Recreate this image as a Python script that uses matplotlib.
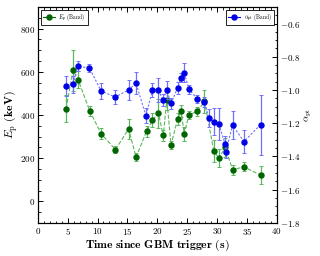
import matplotlib
matplotlib.use('Agg')
import matplotlib.pyplot as plt
from matplotlib.lines import Line2D
from matplotlib.ticker import MultipleLocator

plt.rcParams['font.family'] = 'serif'
plt.rcParams['font.serif'] = ['cmr10', 'DejaVu Serif']
plt.rcParams['mathtext.fontset'] = 'cm'
plt.rcParams['axes.formatter.use_mathtext'] = True

# peak energy (green)
t_ep = [4.74, 5.9, 6.74, 8.7, 10.6, 13.0, 15.2, 16.45, 18.2, 19.2, 20.2, 21.0, 21.6,
        22.3, 23.4, 24.0, 24.5, 25.3, 26.7, 27.9, 29.45, 30.3, 31.4, 32.6, 34.5, 37.3]
ep = [429, 606, 564, 419, 313, 240, 335, 205, 324, 377, 407, 305, 471,
      262, 381, 419, 312, 401, 416, 463, 234, 200, 250, 146, 160, 121]
ep_err = [62, 95, 40, 23, 26, 18, 48, 20, 27, 34, 66, 27, 47,
          18, 27, 27, 33, 18, 23, 52, 52, 43, 43, 23, 21, 41]

# alpha (blue)
t_al = [4.74, 5.9, 6.74, 8.64, 10.6, 12.94, 15.2, 16.45, 18.1, 19.2, 20.2, 20.9, 21.6,
        22.3, 23.4, 24.0, 24.5, 25.3, 26.7, 27.9, 28.6, 29.45, 30.3, 31.35, 31.45, 32.6, 34.5, 37.3]
alpha = [-0.974, -0.966, -0.857, -0.867, -1.006, -1.042, -1.0, -0.958, -1.156, -1.0, -1.0, -1.06, -1.0,
         -1.081, -0.986, -0.925, -0.895, -0.996, -1.053, -1.07, -1.168, -1.19, -1.204, -1.327, -1.372,
         -1.212, -1.31, -1.208]
al_err = [0.06, 0.05, 0.03, 0.025, 0.047, 0.04, 0.06, 0.065, 0.045, 0.04, 0.07, 0.035, 0.055,
          0.033, 0.035, 0.025, 0.055, 0.025, 0.025, 0.03, 0.054, 0.08, 0.096, 0.05, 0.04,
          0.085, 0.07, 0.18]

fig = plt.figure(figsize=(3.2, 2.56), dpi=100)
ax = fig.add_axes([0.118, 0.129, 0.747, 0.844])
ax2 = ax.twinx()

green, green_l = '#006400', '#5cb85c'
blue, blue_l = '#0000e6', '#7070ff'

# connecting lines, lighter than the markers
ax.plot(t_ep, ep, ls='--', lw=0.8, color=green_l, zorder=2)
ax2.plot(t_al, alpha, ls=(0, (2, 1.5)), lw=0.8, color=blue_l, zorder=2)

ax.errorbar(t_ep, ep, yerr=ep_err, fmt='o', color=green, ms=3.6, ecolor=green_l,
            elinewidth=0.9, capsize=1.3, capthick=0.7, zorder=3)
ax2.errorbar(t_al, alpha, yerr=al_err, fmt='o', color=blue, ms=3.6, ecolor=blue_l,
             elinewidth=0.9, capsize=1.3, capthick=0.7, zorder=3)

ax.set_xlim(0, 40)
ax.set_ylim(-100, 900)
ax2.set_ylim(-1.8, -0.5)

ax.xaxis.set_major_locator(MultipleLocator(5))
ax.xaxis.set_minor_locator(MultipleLocator(1))
ax.yaxis.set_major_locator(MultipleLocator(200))
ax.yaxis.set_minor_locator(MultipleLocator(50))
ax2.yaxis.set_major_locator(MultipleLocator(0.2))
ax2.yaxis.set_minor_locator(MultipleLocator(0.05))

for a in (ax, ax2):
    a.tick_params(which='both', direction='in', labelsize=6.5, pad=2)
    a.tick_params(which='major', length=3.5, width=0.7)
    a.tick_params(which='minor', length=1.8, width=0.6)
ax.tick_params(which='both', top=True, right=False)

ax.set_xlabel(r'$\mathbf{Time\ since\ GBM\ trigger\ (s)}$', fontsize=8.5, labelpad=1)
ax.set_ylabel(r'$E_{\rm p}$ $\mathbf{(keV)}$', fontsize=8.5, labelpad=0)
ax2.set_ylabel(r'$\alpha_{\rm pt}$', fontsize=7, labelpad=2)

leg_kw = dict(fontsize=4, fancybox=False, edgecolor='black', framealpha=1,
              handlelength=2.2, borderpad=0.4, handletextpad=0.6)
h1 = Line2D([], [], color=green, marker='o', ms=3.6, lw=0.8)
h2 = Line2D([], [], color=blue, marker='o', ms=3.6, lw=0.8)
l1 = ax.legend([h1], [r'$E_{\rm p}$ (Band)'], loc='upper left', **leg_kw)
l1.get_frame().set_linewidth(0.6)
l2 = ax2.legend([h2], [r'$\alpha_{\rm pt}$ (Band)'], loc='upper right', **leg_kw)
l2.get_frame().set_linewidth(0.6)

fig.savefig('out.png', dpi=100)
